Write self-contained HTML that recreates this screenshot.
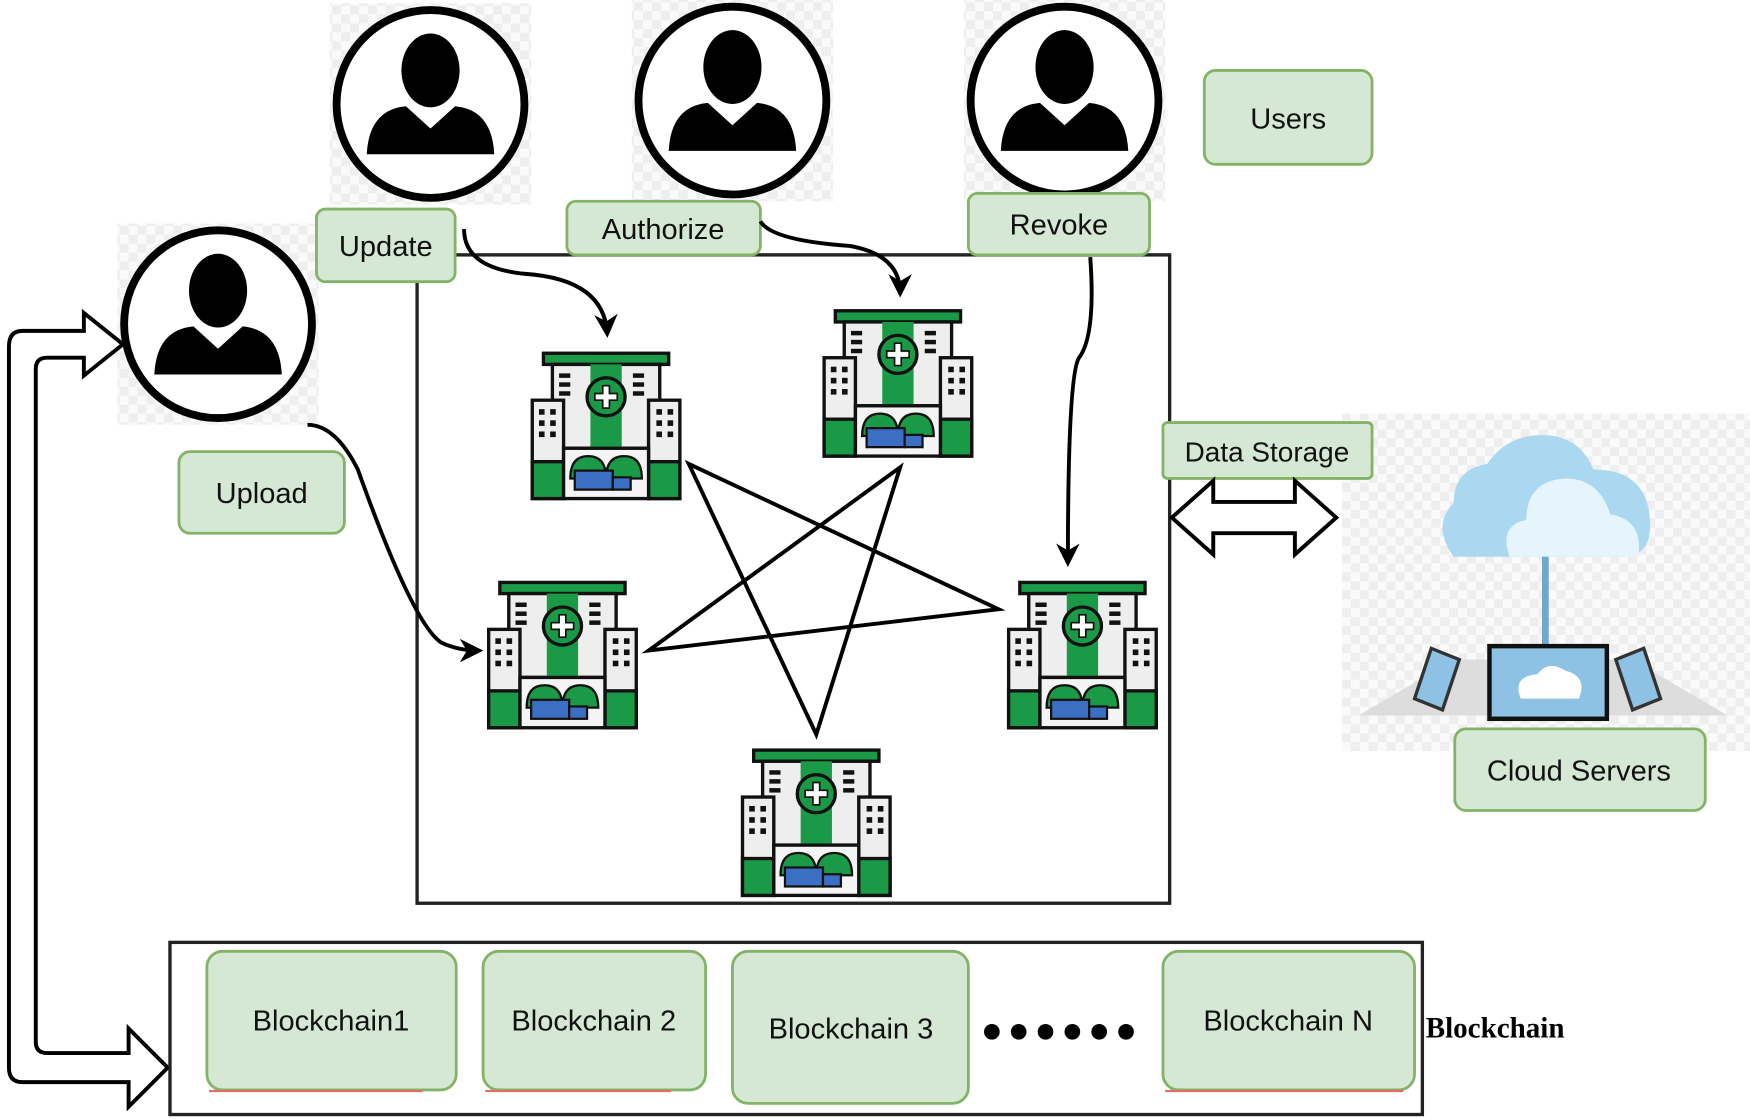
<!DOCTYPE html>
<html><head><meta charset="utf-8"><style>
html,body{margin:0;padding:0;background:#fff}
svg{display:block}
text{font-family:"Liberation Sans",sans-serif}
</style></head><body>
<svg width="1750" height="1119" viewBox="0 0 1565 1001" preserveAspectRatio="none" xmlns="http://www.w3.org/2000/svg">
<defs>
<marker id="ah" viewBox="0 0 10 10" refX="8" refY="5" markerWidth="6" markerHeight="6" orient="auto"><path d="M0,0 L10,5 L0,10 L3,5z" fill="#000"/></marker>
<pattern id="chk" width="16" height="16" patternUnits="userSpaceOnUse"><rect width="16" height="16" fill="#fafafa"/><rect width="8" height="8" fill="#eeeeee"/><rect x="8" y="8" width="8" height="8" fill="#eeeeee"/></pattern>
<g id="user">
<rect x="-90" y="-90" width="180" height="180" fill="url(#chk)"/>
<circle r="84" fill="#fff" stroke="#000" stroke-width="7"/>
<ellipse cx="0" cy="-30" rx="26" ry="33" fill="#000"/>
<path d="M-57,45 Q-55,5 -22,2 L0,22 L22,2 Q55,5 57,45 Z" fill="#000"/>
</g>
<g id="hosp">
<rect x="-56" y="-62" width="112" height="10" fill="#1a9a46" stroke="#111" stroke-width="3"/>
<rect x="-48" y="-52" width="96" height="75" fill="#eee" stroke="#111" stroke-width="3"/>
<rect x="-14" y="-52" width="28" height="75" fill="#1a9a46"/>
<circle cx="0" cy="-23" r="17" fill="#1a9a46" stroke="#111" stroke-width="3"/>
<path d="M-3,-33h6v7h7v6h-7v7h-6v-7h-7v-6h7z" fill="#fff" stroke="#111" stroke-width="1.5"/>
<rect x="-66" y="-20" width="28" height="88" fill="#eee" stroke="#111" stroke-width="3"/>
<rect x="38" y="-20" width="28" height="88" fill="#eee" stroke="#111" stroke-width="3"/>
<rect x="-66" y="35" width="28" height="33" fill="#1a9a46" stroke="#111" stroke-width="3"/>
<rect x="38" y="35" width="28" height="33" fill="#1a9a46" stroke="#111" stroke-width="3"/>
<rect x="-38" y="23" width="76" height="45" fill="#f4f4f4" stroke="#111" stroke-width="3"/>
<path d="M-32,50 Q-32,30 -16,30 Q0,30 0,50z M0,50 Q0,30 16,30 Q32,30 32,50z" fill="#1a9a46" stroke="#111" stroke-width="2"/>
<rect x="-28" y="43" width="34" height="17" fill="#3a6fc4" stroke="#111" stroke-width="2"/>
<rect x="6" y="49" width="16" height="11" fill="#3a6fc4" stroke="#111" stroke-width="2"/>
<g fill="#111"><rect x="-42" y="-44" width="10" height="4"/><rect x="-42" y="-36" width="10" height="4"/><rect x="-42" y="-28" width="10" height="4"/><rect x="24" y="-44" width="10" height="4"/><rect x="24" y="-36" width="10" height="4"/><rect x="24" y="-28" width="10" height="4"/>
<rect x="-60" y="-12" width="5" height="5"/><rect x="-50" y="-12" width="5" height="5"/><rect x="-60" y="-2" width="5" height="5"/><rect x="-50" y="-2" width="5" height="5"/><rect x="-60" y="8" width="5" height="5"/><rect x="-50" y="8" width="5" height="5"/>
<rect x="45" y="-12" width="5" height="5"/><rect x="55" y="-12" width="5" height="5"/><rect x="45" y="-2" width="5" height="5"/><rect x="55" y="-2" width="5" height="5"/><rect x="45" y="8" width="5" height="5"/><rect x="55" y="8" width="5" height="5"/></g>
</g>
</defs>
<rect width="1565" height="1001" fill="#fff"/>

<rect x="1200" y="370" width="365" height="302" fill="url(#chk)"/>

<use href="#user" x="385" y="93"/>
<use href="#user" x="655" y="90"/>
<use href="#user" x="952" y="90"/>
<use href="#user" x="195" y="290"/>

<rect x="373" y="228" width="673" height="580" fill="none" stroke="#222" stroke-width="3"/>

<g fill="#d5e8d4" stroke="#82b366" stroke-width="2.5">
<rect x="283" y="187" width="124" height="65" rx="8"/>
<rect x="507" y="180" width="173" height="48" rx="8"/>
<rect x="866" y="173" width="162" height="55" rx="8"/>
<rect x="1077" y="63" width="150" height="84" rx="10"/>
<rect x="160" y="404" width="148" height="73" rx="10"/>
<rect x="1040" y="378" width="187" height="50" rx="4"/>
</g>
<g font-size="26" fill="#111" text-anchor="middle">
<text x="345" y="229">Update</text>
<text x="593" y="214">Authorize</text>
<text x="947" y="210">Revoke</text>
<text x="1152" y="115">Users</text>
<text x="234" y="450">Upload</text>
<text x="1133" y="413" font-size="25">Data Storage</text>
</g>

<g fill="none" stroke="#000" stroke-width="3.5">
<path d="M616,415 L893,545 L580,582 L805,418 L730,657 Z"/>
<path d="M415,205 Q415,240 470,245 Q540,250 543,298" marker-end="url(#ah)"/>
<path d="M680,198 Q690,215 760,220 Q805,228 805,262" marker-end="url(#ah)"/>
<path d="M975,230 Q980,300 965,320 Q955,335 955,503" marker-end="url(#ah)"/>
<path d="M275,380 Q300,380 320,420 Q370,560 395,575 Q410,582 428,582" marker-end="url(#ah)"/>
</g>

<use href="#hosp" x="542" y="378"/>
<use href="#hosp" x="803" y="340"/>
<use href="#hosp" x="503" y="583"/>
<use href="#hosp" x="968" y="583"/>
<use href="#hosp" x="730" y="733"/>

<path d="M1048,463 L1085,430 L1085,449 L1158,449 L1158,430 L1195,463 L1158,496 L1158,477 L1085,477 L1085,496 Z" fill="#fff" stroke="#000" stroke-width="3.5"/>

<path d="M110,308 L75,280 L75,296 L20,296 Q8,296 8,310 L8,955 Q8,968 20,968 L115,968 L115,990 L150,955 L115,920 L115,942 L42,942 Q32,942 32,932 L32,330 Q32,320 42,320 L75,320 L75,336 Z" fill="#fff" stroke="#000" stroke-width="3.5"/>

<g>
<path d="M1300,498 Q1280,470 1300,450 Q1300,420 1330,415 Q1350,385 1390,390 Q1415,395 1425,420 Q1470,420 1475,460 Q1480,498 1450,498 Z" fill="#a9d8f0"/>
<path d="M1350,498 Q1340,470 1365,465 Q1365,430 1400,428 Q1430,428 1440,460 Q1470,465 1465,498 Z" fill="#e6f4fb"/>
<rect x="1379" y="498" width="6" height="80" fill="#6ea8cc"/>
<path d="M1215,640 L1300,590 L1460,590 L1545,640 Z" fill="#ddd"/>
<rect x="1332" y="578" width="105" height="65" fill="#8ec2e4" stroke="#111" stroke-width="4"/>
<path d="M1360,625 Q1352,605 1375,603 Q1385,590 1400,600 Q1420,605 1412,625 Z" fill="#fff"/>
<path d="M1280,580 L1305,590 L1290,635 L1265,625 Z" fill="#8ec2e4" stroke="#333" stroke-width="3"/>
<path d="M1445,590 L1470,580 L1485,625 L1460,635 Z" fill="#8ec2e4" stroke="#333" stroke-width="3"/>
</g>
<rect x="1301" y="652" width="224" height="73" rx="10" fill="#d5e8d4" stroke="#82b366" stroke-width="2.5"/>
<text x="1412" y="698" font-size="26" text-anchor="middle" fill="#111">Cloud Servers</text>

<rect x="152" y="843" width="1120" height="154" fill="none" stroke="#222" stroke-width="3"/>
<g fill="#d5e8d4" stroke="#82b366" stroke-width="2.5">
<rect x="185" y="851" width="223" height="124" rx="14"/>
<rect x="432" y="851" width="199" height="124" rx="14"/>
<rect x="655" y="851" width="211" height="136" rx="14"/>
<rect x="1040" y="851" width="225" height="124" rx="14"/>
</g>
<g stroke="#e07060" stroke-width="2"><line x1="187" y1="976" x2="378" y2="976"/><line x1="434" y1="976" x2="600" y2="976"/><line x1="1042" y1="976" x2="1255" y2="976"/></g>
<g font-size="26" fill="#111" text-anchor="middle">
<text x="296" y="922">Blockchain1</text>
<text x="531" y="922">Blockchain 2</text>
<text x="761" y="929">Blockchain 3</text>
<text x="1152" y="922">Blockchain N</text>
</g>
<g fill="#000"><circle cx="887" cy="923" r="7"/><circle cx="911" cy="923" r="7"/><circle cx="935" cy="923" r="7"/><circle cx="959" cy="923" r="7"/><circle cx="983" cy="923" r="7"/><circle cx="1007" cy="923" r="7"/></g>
<text x="1275" y="928" font-size="26" font-weight="bold" fill="#000" style="font-family:'Liberation Serif',serif">Blockchain</text>
</svg>
</body></html>
